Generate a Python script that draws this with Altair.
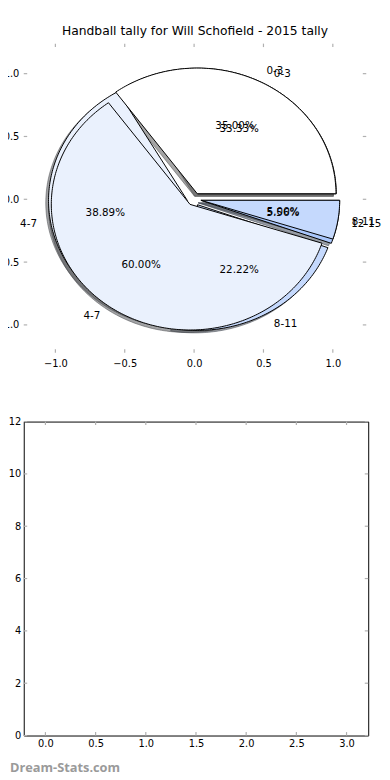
import math
import altair as alt
import pandas as pd

TITLE = "Handball tally for Will Schofield - 2015 tally"
groups_a = ["0-3", "4-7", "8-11"]
counts_a = [7, 12, 1]            # 35.00 %, 60.00 %, 5.00 %
groups_b = ["0-3", "4-7", "8-11", "12-15"]
counts_b = [6, 7, 4, 1]          # 33.33 %, 38.89 %, 22.22 %, 5.56 %
pie_ticks = [-1.0, -0.5, 0.0, 0.5, 1.0]
bottom_x_ticks = [0.0, 0.5, 1.0, 1.5, 2.0, 2.5, 3.0]
bottom_y_ticks = [0, 2, 4, 6, 8, 10, 12]

SLICE_COLORS = ["#ffffff", "#eaf1fd", "#c5d9fd", "#a9c6fb"]
EXPLODE = 0.05
SHADOW_DX, SHADOW_DY = -0.02, -0.02
FONT = "DejaVu Sans"


def hex_scale(h, f):
    r, g, b = int(h[1:3], 16), int(h[3:5], 16), int(h[5:7], 16)
    return "#%02x%02x%02x" % (int(r * f), int(g * f), int(b * f))


SHADOW_COLORS = [hex_scale(c, 0.3) for c in SLICE_COLORS]


def build_pie(name, groups, counts):
    total = float(sum(counts))
    polys, shadows, texts = [], [], []
    start = 0.0
    for slot, (g, c) in enumerate(zip(groups, counts)):
        t1 = 360.0 * start / total
        t2 = 360.0 * (start + c) / total
        start += c
        mid = math.radians((t1 + t2) / 2)
        cx, cy = EXPLODE * math.cos(mid), EXPLODE * math.sin(mid)
        n = max(3, int(abs(t2 - t1)) + 2)
        pts = [(cx, cy)]
        for k in range(n):
            t = math.radians(t1 + (t2 - t1) * k / (n - 1))
            pts.append((cx + math.cos(t), cy + math.sin(t)))
        pts.append((cx, cy))
        key = f"{name}-{slot}"
        for i, (px, py) in enumerate(pts):
            polys.append(dict(key=key, slot=slot, sslot=slot + 10, i=i, x=px, y=py))
            shadows.append(dict(key=key, slot=slot, sslot=slot + 10, i=i,
                                x=px + SHADOW_DX, y=py + SHADOW_DY))
        lx, ly = cx + 1.1 * math.cos(mid), cy + 1.1 * math.sin(mid)
        texts.append(dict(text=g, x=lx, y=ly, kind="label", side="left" if lx > 0 else "right"))
        px_, py_ = cx + 0.6 * math.cos(mid), cy + 0.6 * math.sin(mid)
        texts.append(dict(text="%.2f%%" % (100.0 * c / total), x=px_, y=py_, kind="pct", side="center"))
    return polys, shadows, texts


pa, sa, ta = build_pie("A", groups_a, counts_a)
pb, sb, tb = build_pie("B", groups_b, counts_b)
df_a = pd.DataFrame(pa)
df_b = pd.DataFrame(pb)
df_sh = pd.DataFrame(sb + sa)
df_txt = pd.DataFrame(tb + ta)

W1, H1 = 348, 314
xs = alt.Scale(domain=[-1.228, 1.241], nice=False, zero=False)
ys = alt.Scale(domain=[-1.221, 1.239], nice=False, zero=False)
# one shared colour scale: slots 0-3 are wedge colours, 10-13 the shadow colours
fill_scale = alt.Scale(domain=[0, 1, 2, 3, 10, 11, 12, 13], range=SLICE_COLORS + SHADOW_COLORS)

x_axis = alt.Axis(values=pie_ticks, format=".1f", ticks=False, domain=False, grid=False,
                  title=None, labelPadding=6, labelFont=FONT, labelFontSize=10, labelColor="#000")
y_axis = alt.Axis(values=pie_ticks, format=".1f", ticks=False, domain=False, grid=False,
                  title=None, labelPadding=5, labelFont=FONT, labelFontSize=10, labelColor="#000")
X = alt.X("x:Q", scale=xs, axis=x_axis)
Y = alt.Y("y:Q", scale=ys, axis=y_axis)

shadow_layer = alt.Chart(df_sh).mark_line(strokeWidth=1, fillOpacity=0.5, strokeOpacity=0.5).encode(
    x=X, y=Y,
    order="i:Q",
    detail="key:N",
    fill=alt.Fill("sslot:O", scale=fill_scale, legend=None),
    stroke=alt.Stroke("sslot:O", scale=fill_scale, legend=None),
)


def wedge_layer(df):
    return alt.Chart(df).mark_line(stroke="black", strokeWidth=1, strokeJoin="miter").encode(
        x=X, y=Y,
        order="i:Q",
        detail="key:N",
        fill=alt.Fill("slot:O", scale=fill_scale, legend=None),
    )


def text_layer(side):
    return alt.Chart(df_txt).transform_filter(alt.datum.side == side).mark_text(
        align=side, baseline="middle", font=FONT, fontSize=10.5, color="#000"
    ).encode(x=X, y=Y, text="text:N")


tick_color = "#b0b0b0"
tl = 3.5
dfx_t = pd.DataFrame({"x": pie_ticks, "y": pie_ticks})
top_ticks = [
    alt.Chart(dfx_t).mark_rule(color=tick_color, strokeWidth=1.2).encode(
        x=X, y=alt.value(0), y2=alt.value(tl)),
    alt.Chart(dfx_t).mark_rule(color=tick_color, strokeWidth=1.2).encode(
        x=X, y=alt.value(H1 - tl), y2=alt.value(H1)),
    alt.Chart(dfx_t).mark_rule(color=tick_color, strokeWidth=1.2).encode(
        y=Y, x=alt.value(0), x2=alt.value(tl)),
    alt.Chart(dfx_t).mark_rule(color=tick_color, strokeWidth=1.2).encode(
        y=Y, x=alt.value(W1 - tl), x2=alt.value(W1)),
]

top = alt.layer(
    shadow_layer, wedge_layer(df_b), wedge_layer(df_a),
    text_layer("center"), text_layer("left"), text_layer("right"),
    *top_ticks,
).properties(
    width=W1, height=H1,
    title=alt.TitleParams(TITLE, font=FONT, fontSize=12.5, fontWeight="normal", color="#000",
                          anchor="middle", frame="group", offset=6),
    view=alt.ViewBackground(stroke=None),
)

# bottom empty panel
W2, H2 = 350, 319
bxs = alt.Scale(domain=[-0.216, 3.216], nice=False, zero=False)
bys = alt.Scale(domain=[0, 12], nice=False, zero=False)
dfb = pd.DataFrame({"bx": bottom_x_ticks})
dfby = pd.DataFrame({"by": bottom_y_ticks})
BX = alt.X("bx:Q", scale=bxs,
           axis=alt.Axis(values=bottom_x_ticks, format=".1f", ticks=False, domain=False, grid=False,
                         title=None, labelPadding=3, labelFont=FONT, labelFontSize=10, labelColor="#000"))
BY = alt.Y("by:Q", scale=bys,
           axis=alt.Axis(values=bottom_y_ticks, format="d", ticks=False, domain=False, grid=False,
                         title=None, labelPadding=3, labelFont=FONT, labelFontSize=10, labelColor="#000"))

bottom = alt.layer(
    alt.Chart(dfb).mark_rule(color=tick_color, strokeWidth=1.2).encode(
        x=BX, y=alt.value(H2 - tl), y2=alt.value(H2)),
    alt.Chart(dfb).mark_rule(color=tick_color, strokeWidth=1.2).encode(
        x=BX, y=alt.value(0), y2=alt.value(tl)),
    alt.Chart(dfby).mark_rule(color=tick_color, strokeWidth=1.2).encode(
        y=BY, x=alt.value(0), x2=alt.value(tl)),
    alt.Chart(dfby).mark_rule(color=tick_color, strokeWidth=1.2).encode(
        y=BY, x=alt.value(W2 - tl), x2=alt.value(W2)),
    alt.Chart(pd.DataFrame({"t": ["Dream-Stats.com"]})).mark_text(
        align="left", baseline="middle", font="Open Sans", fontSize=13, fontWeight="bold",
        color="#9a9a9a").encode(text="t:N", x=alt.value(-14), y=alt.value(H2 + 33)),
).properties(width=W2, height=H2, view=alt.ViewBackground(stroke="black", strokeWidth=1))

chart = alt.vconcat(top, bottom, spacing=48).properties(
    padding={"left": -14, "top": 10, "right": 0, "bottom": 0}
)
chart.save("out.html", embed_options={"renderer": "svg", "actions": False})
